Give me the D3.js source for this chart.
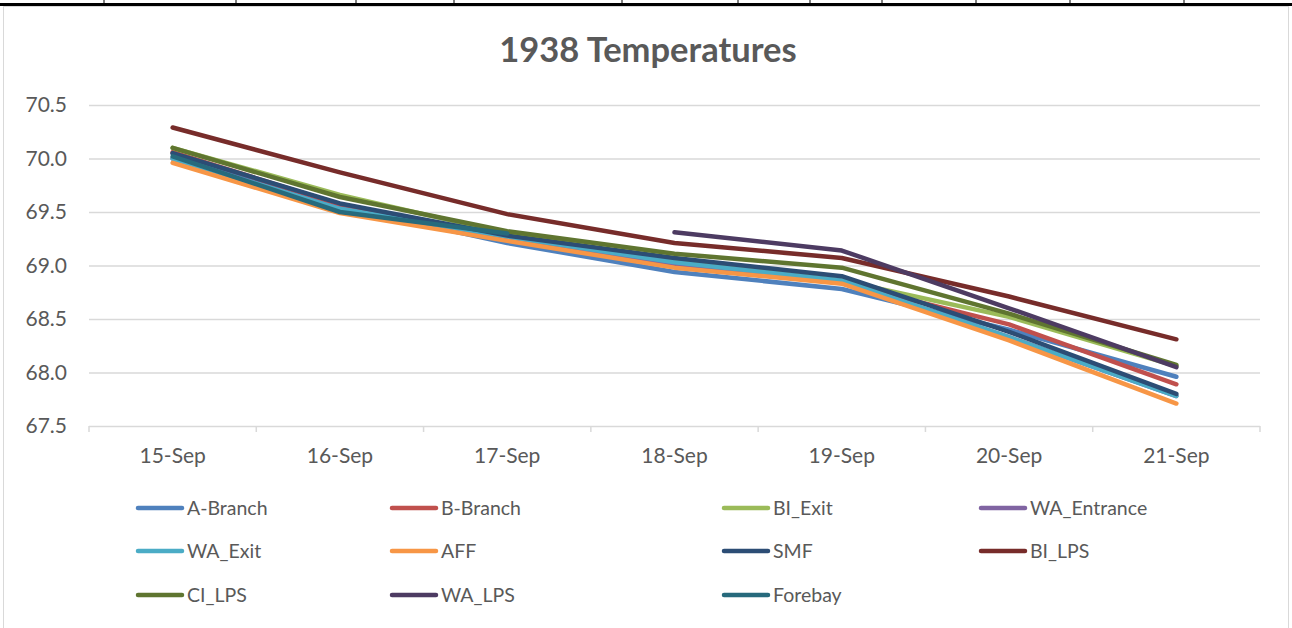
<!DOCTYPE html>
<html>
<head>
<meta charset="utf-8">
<script src="https://cdn.jsdelivr.net/npm/d3@7"></script>
<style>
  body { margin: 0; background: #fff; }
  svg { display: block; font-family: Lato, "Open Sans", sans-serif; }
</style>
</head>
<body>
<div class="chart"></div>
<script>
const days = ["15-Sep", "16-Sep", "17-Sep", "18-Sep", "19-Sep", "20-Sep", "21-Sep"];

const seriesNames = ["A-Branch", "B-Branch", "BI_Exit", "WA_Entrance", "WA_Exit", "AFF",
  "SMF", "BI_LPS", "CI_LPS", "WA_LPS", "Forebay"];

const seriesColors = ["#4F81BD", "#C0504D", "#9BBB59", "#8064A2", "#4BACC6", "#F79646",
  "#2C4D75", "#772C2A", "#5F7530", "#4D3B62", "#276A7C"];

const aBranch    = [70.05, 69.55, 69.21, 68.94, 68.78, 68.40, 67.96];
const bBranch    = [70.06, 69.57, 69.25, 69.00, 68.84, 68.45, 67.89];
const biExit     = [70.10, 69.66, 69.30, 69.04, 68.86, 68.52, 68.06];
const waEntrance = [70.00, 69.53, 69.26, 69.02, 68.85, 68.33, 67.78];
const waExit     = [70.00, 69.53, 69.27, 69.03, 68.86, 68.33, 67.78];
const aff        = [69.96, 69.49, 69.23, 68.98, 68.83, 68.30, 67.71];
const smf        = [70.05, 69.58, 69.28, 69.07, 68.90, 68.38, 67.80];
const biLps      = [70.29, 69.87, 69.48, 69.21, 69.07, 68.71, 68.31];
const ciLps      = [70.10, 69.64, 69.32, 69.11, 68.98, 68.55, 68.07];
const waLps      = [null, null, null, 69.31, 69.14, 68.60, 68.05];
const forebay    = [70.02, 69.50, 69.30, null, null, null, null];

const seriesValues = [aBranch, bBranch, biExit, waEntrance, waExit, aff,
  smf, biLps, ciLps, waLps, forebay];

const yTicks = [67.5, 68.0, 68.5, 69.0, 69.5, 70.0, 70.5];

const width = 1292, height = 628;
const plot = {left: 89, right: 1260, top: 105, bottom: 426};
const grey = "#595959", gridColor = "#d9d9d9";

const svg = d3.select(".chart").append("svg")
    .attr("width", width)
    .attr("height", height)
    .attr("viewBox", [0, 0, width, height]);

// spreadsheet cells peeking above the chart
const cellEdges = [104, 236, 356, 454, 622, 738, 810, 882, 976, 1070, 1184];
svg.append("g")
    .selectAll("line")
    .data(cellEdges)
    .join("line")
    .attr("x1", d => d).attr("x2", d => d)
    .attr("y1", 0).attr("y2", 4)
    .attr("stroke", "#000");
svg.append("rect")
    .attr("x", 0).attr("y", 3)
    .attr("width", width).attr("height", 3)
    .attr("fill", "#000");

// chart area border
svg.append("rect")
    .attr("x", 3.5).attr("y", 6.5)
    .attr("width", 1285).attr("height", 640)
    .attr("fill", "#fff")
    .attr("stroke", gridColor);

svg.append("text")
    .attr("x", 648)
    .attr("y", 62)
    .attr("text-anchor", "middle")
    .attr("font-size", 34.5)
    .attr("font-weight", "bold")
    .attr("fill", grey)
    .text("1938 Temperatures");

const x = d3.scaleBand(days, [plot.left, plot.right]);
const y = d3.scaleLinear([67.5, 70.5], [plot.bottom, plot.top]);

// gridlines + y labels
svg.append("g")
    .attr("transform", `translate(${plot.left},0)`)
    .call(d3.axisLeft(y).tickValues(yTicks).tickFormat(d3.format(".1f"))
        .tickSize(-(plot.right - plot.left)).tickPadding(22))
    .call(g => g.select(".domain").remove())
    .call(g => g.selectAll(".tick line").attr("stroke", gridColor).attr("stroke-width", 1.5))
    .call(g => g.selectAll(".tick text")
        .attr("fill", grey).attr("font-size", 21).attr("font-family", "Lato, sans-serif"));

// x axis
svg.append("g")
    .attr("transform", `translate(0,${plot.bottom})`)
    .call(d3.axisBottom(x).tickSize(0).tickPadding(22))
    .call(g => g.select(".domain").remove())
    .call(g => g.selectAll(".tick text")
        .attr("fill", grey).attr("font-size", 21).attr("font-family", "Lato, sans-serif"));

svg.append("g")
    .attr("stroke", gridColor)
    .attr("stroke-width", 1.5)
    .selectAll("line")
    .data(days.concat([null]))
    .join("line")
    .attr("x1", d => d ? x(d) : plot.right)
    .attr("x2", d => d ? x(d) : plot.right)
    .attr("y1", plot.bottom)
    .attr("y2", plot.bottom + 6);

// lines
const line = d3.line()
    .defined(d => d.v != null)
    .x(d => x(d.day) + x.bandwidth() / 2)
    .y(d => y(d.v));

svg.append("g")
    .attr("fill", "none")
    .attr("stroke-width", 4.5)
    .attr("stroke-linecap", "round")
    .attr("stroke-linejoin", "round")
    .selectAll("path")
    .data(seriesNames.map((name, i) => ({name, color: seriesColors[i],
      pts: days.map((day, j) => ({day, v: seriesValues[i][j]}))})))
    .join("path")
    .attr("stroke", d => d.color)
    .attr("d", d => line(d.pts));

// legend
const legCols = [136, 390, 722, 979];
const legRows = [508, 551, 595];
const legend = svg.append("g")
    .selectAll("g")
    .data(seriesNames)
    .join("g")
    .attr("transform", (d, i) => `translate(${legCols[i % 4]},${legRows[Math.floor(i / 4)]})`);

legend.append("line")
    .attr("x1", 2).attr("x2", 46)
    .attr("stroke", (d, i) => seriesColors[i])
    .attr("stroke-width", 4.5)
    .attr("stroke-linecap", "round");

legend.append("text")
    .attr("x", 51)
    .attr("dy", "0.35em")
    .attr("font-size", 19.5)
    .attr("fill", grey)
    .text(d => d);
</script>
</body>
</html>
